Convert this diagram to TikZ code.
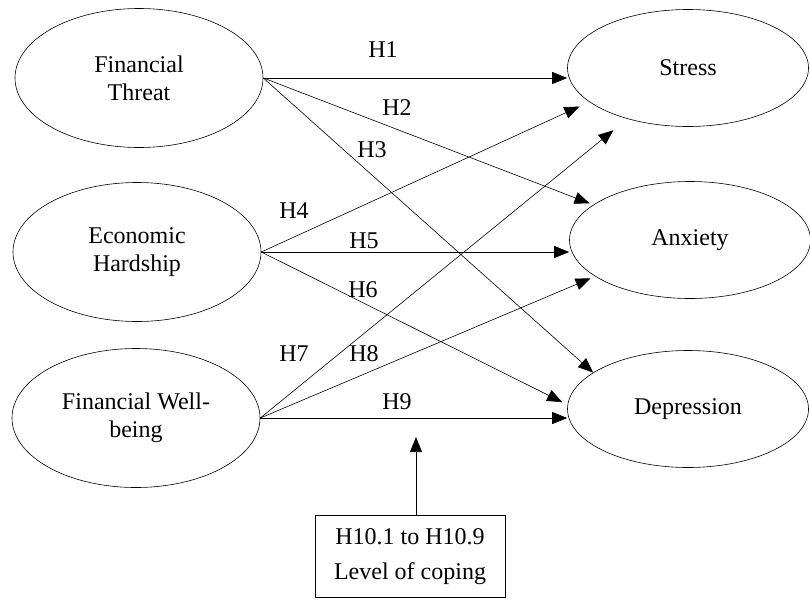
\documentclass[tikz,border=0pt]{standalone}
\usepackage{fontspec}
\setmainfont{Liberation Serif}
\usetikzlibrary{shapes.geometric, arrows.meta}

\begin{document}
\begin{tikzpicture}[x=1pt, y=-1pt, line width=0.6pt, font=\fontsize{24}{28}\selectfont,
  iv/.style = {draw, ellipse, align=center, inner sep=0pt, minimum width=248pt, minimum height=139pt},
  dv/.style = {draw, ellipse, align=center, inner sep=0pt, minimum width=241pt, minimum height=117pt},
  hyp/.style = {-{Triangle[length=15pt, width=12pt]}},
  cope/.style = {draw, rectangle, align=center, minimum width=190pt, inner ysep=13pt, font=\fontsize{24}{35}\selectfont}]
\useasboundingbox (0,0) rectangle (810,600);
\node[iv] (ft) at (139,78) {Financial\\Threat};
\node[iv] (eh) at (137,252) {Economic\\Hardship};
\node[iv] (fwb) at (136,418) {Financial Well-\\being};
\node[dv] (stress) at (688,68) {Stress};
\node[dv] (anx) at (690,240) {Anxiety};
\node[dv] (dep) at (688,409) {Depression};
\node[cope, anchor=north] (coping) at (410,515) {H10.1 to H10.9\\Level of coping};
\coordinate (mod) at (416,437);
\draw[hyp] (ft.east) -- (ft.east -| stress.west);
\draw[hyp, shorten >=4pt] (ft.east) -- (anx.160);
\draw[hyp] (ft.east) -- (dep.159);
\draw[hyp, shorten >=11pt] (eh.east) -- (stress.199);
\draw[hyp] (eh.east) -- (eh.east -| anx.west);
\draw[hyp, shorten >=6pt] (eh.east) -- (dep.178);
\draw[hyp, shorten >=18pt] (fwb.east) -- (stress.220);
\draw[hyp, shorten >=5pt] (fwb.east) -- (anx.201);
\draw[hyp] (fwb.east) -- (fwb.east -| dep.west);
\draw[hyp] (coping.north -| mod) -- (mod);
\node (h1) at (383,50) {H1};
\node (h2) at (397,108) {H2};
\node (h3) at (372,150) {H3};
\node (h4) at (294,211) {H4};
\node (h5) at (364,241) {H5};
\node (h6) at (363,290) {H6};
\node (h7) at (294,354) {H7};
\node (h8) at (364,354) {H8};
\node (h9) at (397,402) {H9};
\end{tikzpicture}
\end{document}
